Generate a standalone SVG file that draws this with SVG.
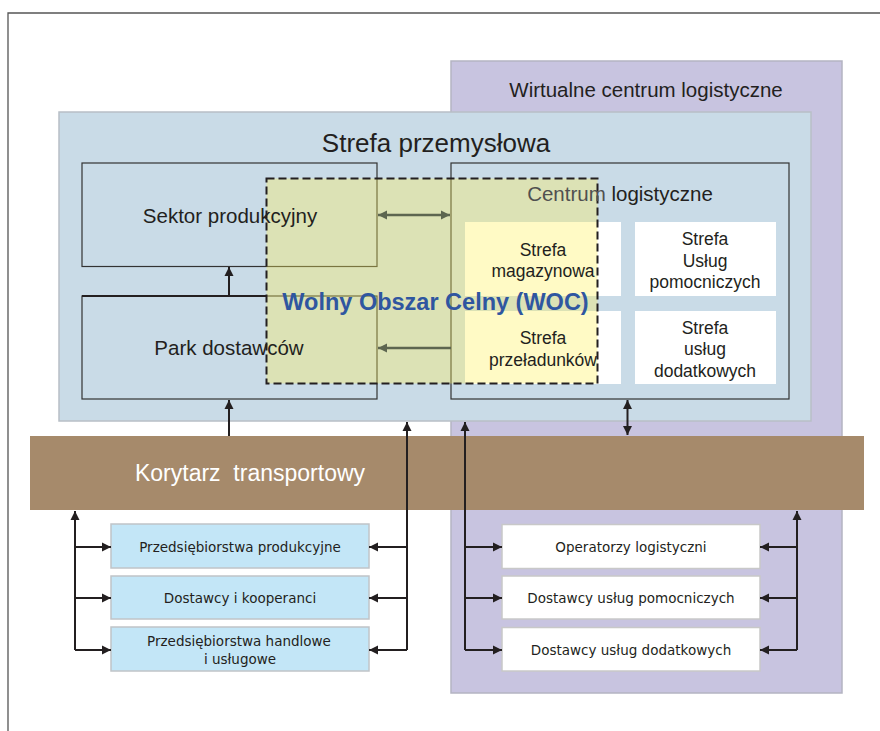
<svg xmlns="http://www.w3.org/2000/svg" width="880" height="731" viewBox="0 0 880 731">
<style>
.t{font-family:"Liberation Sans",Arial,sans-serif;fill:#231f20;text-anchor:middle}
.s{font-family:"DejaVu Sans",Verdana,sans-serif;fill:#231f20;text-anchor:middle;font-size:13.5px}
.box{fill:none;stroke:#333;stroke-width:1.2}
.wz{fill:#fff}
.c{fill:none;stroke:#231f20;stroke-width:2}
.g{fill:none;stroke:#5d6650;stroke-width:2.5}
.pb{fill:#c3e6f7;stroke:#c0c4c8;stroke-width:1.5}
.wb{fill:#fff;stroke:#c8c8c8;stroke-width:1.5}
</style>
<defs>
<marker id="ah" viewBox="0 0 10 10" refX="10" refY="5" markerWidth="9" markerHeight="10" markerUnits="userSpaceOnUse" orient="auto-start-reverse">
<path d="M0,0 L10,5 L0,10 z" fill="#231f20"/>
</marker>
<marker id="ag" viewBox="0 0 10 10" refX="10" refY="5" markerWidth="9" markerHeight="11" markerUnits="userSpaceOnUse" orient="auto-start-reverse">
<path d="M0,0 L10,5 L0,10 z" fill="#5d6650"/>
</marker>
</defs>
<rect width="880" height="731" fill="#fff"/>
<path d="M8,731 V13 H880" fill="none" stroke="#555" stroke-width="1.3"/>

<g id="wirtualne">
<rect x="451" y="61" width="391" height="632" fill="#c8c4e0" stroke="#b4b4c2" stroke-width="1.5"/>
<text class="t" x="646" y="97" font-size="20.5">Wirtualne centrum logistyczne</text>
</g>

<g id="strefa-przemyslowa">
<rect x="59" y="112" width="752" height="309" fill="#c9dbe7" stroke="#b8bfc6" stroke-width="1.5"/>
<text class="t" x="436" y="152" font-size="26">Strefa przemysłowa</text>
</g>

<g id="korytarz">
<rect x="30" y="436" width="834" height="74" fill="#a68a6b"/>
<text class="t" x="250" y="481" font-size="23" style="fill:#fff">Korytarz&#160; transportowy</text>
</g>

<g id="sektor">
<rect class="box" x="82" y="163" width="295" height="103.5"/>
</g>

<g id="park">
<rect class="box" x="82" y="296" width="295" height="103"/>
</g>

<g id="centrum">
<rect class="box" x="451" y="163" width="338" height="236"/>
<rect class="wz" x="465" y="222" width="156" height="74"/>
<rect class="wz" x="635" y="222" width="141" height="74"/>
<rect class="wz" x="465" y="311" width="156" height="73"/>
<rect class="wz" x="635" y="311" width="141" height="73"/>
</g>

<g id="przedsiebiorstwa">
<rect class="pb" x="111" y="524" width="258" height="44"/>
<text class="s" x="240" y="552">Przedsiębiorstwa produkcyjne</text>
<rect class="pb" x="111" y="576" width="258" height="43"/>
<text class="s" x="240" y="603">Dostawcy i kooperanci</text>
<rect class="pb" x="111" y="627" width="258" height="44"/>
<text class="s" x="240"><tspan x="239" y="646">Przedsiębiorstwa handlowe</tspan><tspan x="240" y="664">i usługowe</tspan></text>
</g>

<g id="operatorzy">
<rect class="wb" x="502" y="524.5" width="258" height="44"/>
<text class="s" x="631" y="552">Operatorzy logistyczni</text>
<rect class="wb" x="502" y="576" width="258" height="43"/>
<text class="s" x="631" y="603">Dostawcy usług pomocniczych</text>
<rect class="wb" x="502" y="627.5" width="258" height="43.5"/>
<text class="s" x="631" y="654.5">Dostawcy usług dodatkowych</text>
</g>

<g id="connectors">
<path class="c" d="M82,296 H267" stroke-width="2.3"/>
<path class="c" d="M229,296 V267" marker-end="url(#ah)"/>
<path class="c" d="M229,436 V400" marker-end="url(#ah)"/>
<path class="c" d="M627.5,400 V435" marker-start="url(#ah)" marker-end="url(#ah)"/>
<path class="c" d="M407,650 V422" marker-end="url(#ah)"/>
<path class="c" d="M465,650 V422" marker-end="url(#ah)"/>
<path class="c" d="M75,650 V511" marker-end="url(#ah)"/>
<path class="c" d="M797,650 V511" marker-end="url(#ah)"/>
<path class="c" d="M75,547 H111" marker-end="url(#ah)"/>
<path class="c" d="M75,598 H111" marker-end="url(#ah)"/>
<path class="c" d="M75,650 H111" marker-end="url(#ah)"/>
<path class="c" d="M407,547 H369" marker-end="url(#ah)"/>
<path class="c" d="M407,598 H369" marker-end="url(#ah)"/>
<path class="c" d="M407,650 H369" marker-end="url(#ah)"/>
<path class="c" d="M465,547 H502" marker-end="url(#ah)"/>
<path class="c" d="M465,598 H502" marker-end="url(#ah)"/>
<path class="c" d="M465,650 H502" marker-end="url(#ah)"/>
<path class="c" d="M797,547 H760" marker-end="url(#ah)"/>
<path class="c" d="M797,598 H760" marker-end="url(#ah)"/>
<path class="c" d="M797,650 H760" marker-end="url(#ah)"/>
</g>

<g id="woc">
<rect x="266.5" y="178.5" width="331" height="205" fill="#fff158" opacity="0.35"/>
<g id="woc-connectors">
<path class="g" d="M378,215 H450" marker-start="url(#ag)" marker-end="url(#ag)"/>
<path class="g" d="M451,348 H378" marker-end="url(#ag)"/>
</g>
<rect x="266.5" y="178.5" width="331" height="205" fill="none" stroke="#231f20" stroke-width="2" stroke-dasharray="8 4"/>
</g>

<g id="labels">
<text class="t" x="230" y="223" font-size="20.5">Sektor produkcyjny</text>
<text class="t" x="229" y="355" font-size="20.5">Park dostawców</text>
<text class="t" x="620" y="201" font-size="20.5"><tspan fill="#505050">Centrum</tspan> logistyczne</text>
<text class="t" font-size="17.5" x="543"><tspan x="543" y="256">Strefa</tspan><tspan x="543" y="277">magazynowa</tspan></text>
<text class="t" font-size="17.5" x="705"><tspan x="705" y="245">Strefa</tspan><tspan x="705" y="266.5">Usług</tspan><tspan x="705" y="288">pomocniczych</tspan></text>
<text class="t" font-size="17.5" x="543"><tspan x="543" y="344">Strefa</tspan><tspan x="543" y="365.5">przeładunków</tspan></text>
<text class="t" font-size="17.5" x="705"><tspan x="705" y="333.5">Strefa</tspan><tspan x="705" y="355">usług</tspan><tspan x="705" y="376.5">dodatkowych</tspan></text>
<text x="435.5" y="310" font-family="Liberation Sans, Arial, sans-serif" font-weight="bold" font-size="23.5" fill="#2f56a0" text-anchor="middle">Wolny Obszar Celny (WOC)</text>
</g>
</svg>
